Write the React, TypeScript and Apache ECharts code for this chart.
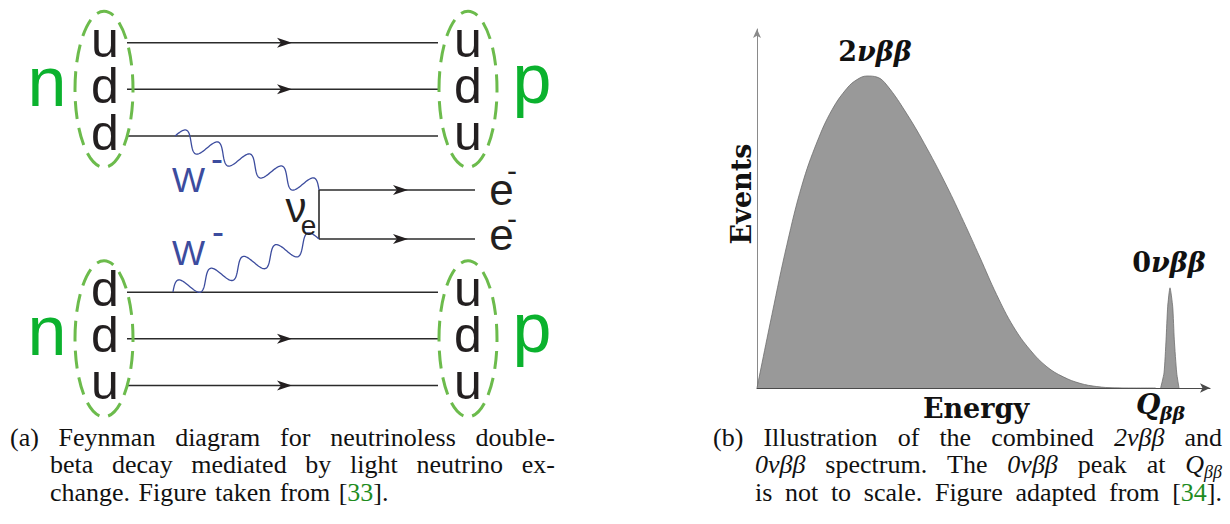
import { useEffect, useRef } from "react";
import * as echarts from "echarts";

// ---- data (arbitrary units) ----
const energy2nu = [0, 3.31, 6.62, 9.93, 13.25, 16.56, 19.87, 22.08, 24.28, 26.49, 28.7, 33.1, 37.5, 41.9, 45.6, 49.2, 52.9, 56.6, 60.3, 64.0, 67.6, 71.3, 75.0, 79.0, 83.0, 88.0];
const events2nu = [0, 20.5, 40.0, 56.5, 68.5, 77.5, 83.5, 85.9, 86.9, 86.6, 84.3, 76.3, 66.8, 56.2, 46.4, 36.4, 26.0, 17.1, 10.6, 5.9, 3.1, 1.3, 0.4, 0.05, 0, 0];
const energy0nu = [89.1, 89.85, 90.3, 90.66, 91.17, 91.77, 92.12, 92.65, 93.16];
const events0nu = [0, 4.2, 13.4, 22.6, 27.9, 22.6, 13.4, 4.2, 0];

// ---- texts ----
const xAxisName = "Energy";
const yAxisName = "Events";
const leftQuarksTop = ["u", "d", "d"];
const rightQuarksTop = ["u", "d", "u"];
const leftQuarksBottom = ["d", "d", "u"];
const rightQuarksBottom = ["u", "d", "u"];
const captionA = [
  "(a) Feynman diagram for neutrinoless double-",
  "beta decay mediated by light neutrino ex-",
  "change. Figure taken from [#33#].",
];
const captionB = [
  "(b) Illustration of the combined *2νββ* and",
  "*0νββ* spectrum. The *0νββ* peak at *Q*_ββ_",
  "is not to scale. Figure adapted from [#34#].",
];

const SANS = '"Liberation Sans", Arial, sans-serif';
const SERIF = '"Liberation Serif", "Times New Roman", serif';
const BOLDSERIF = '"DejaVu Serif", serif';
const INK = "#231f20";
const LINE = "#2b2b2b";
const DASH = "#6cbb4c";
const GREEN = "#0bb22e";
const BLUE = "#3c4c9e";

let ctx: CanvasRenderingContext2D | null = null;
function measure(text: string, css: string) {
  if (!ctx) ctx = document.createElement("canvas").getContext("2d");
  ctx!.font = css;
  return ctx!.measureText(text).width;
}

type Part = { t: string; kind: string };
function parseWord(w: string): Part[] {
  return w
    .split(/(\*[^*]+\*|#[^#]+#|_[^_]+_)/)
    .filter((s) => s.length > 0)
    .map((s) => {
      if (s[0] === "*") return { t: s.slice(1, -1), kind: "it" };
      if (s[0] === "#") return { t: s.slice(1, -1), kind: "gr" };
      if (s[0] === "_") return { t: s.slice(1, -1), kind: "sub" };
      return { t: s, kind: "rm" };
    });
}
const CAP = 26;
function partFont(kind: string) {
  if (kind === "it") return { fontStyle: "italic", fontSize: CAP, dy: 0, fill: "#111" };
  if (kind === "sub") return { fontStyle: "italic", fontSize: 18, dy: 5, fill: "#111" };
  if (kind === "gr") return { fontStyle: "normal", fontSize: CAP, dy: 0, fill: "#1e8c1e" };
  return { fontStyle: "normal", fontSize: CAP, dy: 0, fill: "#111" };
}
function cssOf(f: { fontStyle: string; fontSize: number }) {
  return `${f.fontStyle} ${f.fontSize}px ${SERIF}`;
}

function captionLine(line: string, x0: number, x1: number, baseline: number, justify: boolean) {
  const words = line.split(" ").map(parseWord);
  const widths = words.map((parts) =>
    parts.reduce((s, p) => s + measure(p.t, cssOf(partFont(p.kind))), 0)
  );
  const total = widths.reduce((a, b) => a + b, 0);
  const gap = justify && words.length > 1 ? (x1 - x0 - total) / (words.length - 1) : measure(" ", cssOf(partFont("rm"))) * 1.3;
  const els: any[] = [];
  let x = x0;
  words.forEach((parts, i) => {
    let px = x;
    parts.forEach((p) => {
      const f = partFont(p.kind);
      els.push({
        type: "text",
        x: px,
        y: baseline + f.dy - 0.34 * f.fontSize,
        z: 100,
        style: {
          text: p.t,
          fill: f.fill,
          fontFamily: SERIF,
          fontSize: f.fontSize,
          fontStyle: f.fontStyle,
          textAlign: "left",
          verticalAlign: "middle",
        },
      });
      px += measure(p.t, cssOf(f));
    });
    x += widths[i] + gap;
  });
  return els;
}

function sansText(text: string, cx: number, baseline: number, size: number, fill: string, align = "center") {
  return {
    type: "text",
    x: cx,
    y: baseline - 0.3465 * size,
    z: 100,
    style: { text, fill, fontFamily: SANS, fontSize: size, textAlign: align, verticalAlign: "middle" },
  };
}

function arrowHead(tipX: number, y: number) {
  return {
    type: "polygon",
    z: 60,
    shape: { points: [[tipX, y], [tipX - 15, y - 5], [tipX - 11, y], [tipX - 15, y + 5]] },
    style: { fill: INK },
  };
}

function wave(x0: number, y0: number, x1: number, y1: number, periods: number, amp: number) {
  const dx = x1 - x0;
  const dy = y1 - y0;
  const L = Math.hypot(dx, dy);
  const nx = dy / L;
  const ny = -dx / L;
  const pts: number[][] = [];
  const N = 240;
  for (let i = 0; i <= N; i++) {
    const t = i / N;
    const off = amp * Math.sin(2 * Math.PI * periods * t);
    pts.push([x0 + dx * t + nx * off, y0 + dy * t + ny * off]);
  }
  return {
    type: "polyline",
    z: 50,
    shape: { points: pts },
    style: { stroke: BLUE, lineWidth: 1.3, fill: "none" },
  };
}

function feynman() {
  const els: any[] = [];
  const lineYs = [42.7, 89.3, 136];
  const baseYs = [57, 103, 150];
  const groups = [
    { off: 0, left: leftQuarksTop, right: rightQuarksTop, arrows: [0, 1] },
    { off: 249.5, left: leftQuarksBottom, right: rightQuarksBottom, arrows: [1, 2] },
  ];
  groups.forEach((g) => {
    lineYs.forEach((y, i) => {
      els.push({ type: "line", z: 40, shape: { x1: 127, y1: y + g.off, x2: 438, y2: y + g.off }, style: { stroke: LINE, lineWidth: 1.6 } });
      if (g.arrows.includes(i)) els.push(arrowHead(292, y + g.off));
      els.push(sansText(g.left[i], 105, baseYs[i] + g.off, 50, INK));
      els.push(sansText(g.right[i], 468, baseYs[i] + g.off, 50, INK));
    });
    [104, 468].forEach((cx) =>
      els.push({
        type: "ellipse",
        z: 45,
        shape: { cx, cy: 89.3 + g.off, rx: 29, ry: 78 },
        style: { fill: "none", stroke: DASH, lineWidth: 3, lineDash: [18, 9] },
      })
    );
    els.push(sansText("n", 47, 106 + g.off, 70, GREEN));
    els.push(sansText("p", 532, 103 + g.off, 70, GREEN));
  });
  // neutrino propagator and electrons
  els.push({ type: "line", z: 40, shape: { x1: 319, y1: 190, x2: 319, y2: 239 }, style: { stroke: LINE, lineWidth: 1.6 } });
  [190, 239].forEach((y) => {
    els.push({ type: "line", z: 40, shape: { x1: 319, y1: y, x2: 475, y2: y }, style: { stroke: LINE, lineWidth: 1.6 } });
    els.push(arrowHead(408, y));
  });
  els.push(sansText("e", 501.5, 205, 44, INK));
  els.push(sansText("e", 501.5, 250, 44, INK));
  els.push(sansText("-", 512, 181, 30, INK));
  els.push(sansText("-", 512, 229, 30, INK));
  els.push(sansText("ν", 296, 222, 42, INK));
  els.push(sansText("e", 308.5, 235, 28, INK));
  // W bosons
  els.push(wave(175, 136, 319, 190, 4.5, 9.5));
  els.push(wave(173, 292, 319, 239, 4.5, 9.5));
  els.push(sansText("W", 172, 192, 35, BLUE, "left"));
  els.push(sansText("W", 172, 265, 35, BLUE, "left"));
  els.push(sansText("-", 217, 171, 36, BLUE));
  els.push(sansText("-", 218, 244, 36, BLUE));
  return els;
}

function spectrumLabels() {
  const bold = (size: number, italic: boolean) => ({
    fontFamily: BOLDSERIF,
    fontWeight: "bold",
    fontSize: size,
    fontStyle: italic ? "italic" : "normal",
  });
  return [
    {
      type: "text", x: 875, y: 51, z: 100,
      style: {
        text: "{a|2}{b|νββ}", textAlign: "center", verticalAlign: "middle", fill: "#111",
        rich: { a: { ...bold(27, false), fill: "#111" }, b: { ...bold(27, true), fill: "#111" } },
      },
    },
    {
      type: "text", x: 1169, y: 262, z: 100,
      style: {
        text: "{a|0}{b|νββ}", textAlign: "center", verticalAlign: "middle", fill: "#111",
        rich: { a: { ...bold(27, false), fill: "#111" }, b: { ...bold(27, true), fill: "#111" } },
      },
    },
    {
      type: "text", x: 976, y: 418 - 0.34 * 27, z: 100,
      style: { text: xAxisName, textAlign: "center", verticalAlign: "middle", fill: "#111", ...bold(27, false) },
    },
    {
      type: "text", x: 741, y: 194, rotation: Math.PI / 2, z: 100,
      style: { text: yAxisName, textAlign: "center", verticalAlign: "middle", fill: "#111", ...bold(27, false) },
    },
    {
      type: "text", x: 1136, y: 414 - 0.34 * 28, z: 100,
      style: { text: "Q", textAlign: "left", verticalAlign: "middle", fill: "#111", ...bold(28, true) },
    },
    {
      type: "text", x: 1160, y: 419 - 0.34 * 19, z: 100,
      style: { text: "ββ", textAlign: "left", verticalAlign: "middle", fill: "#111", ...bold(19, true) },
    },
  ];
}

export default function App() {
  const ref = useRef<HTMLDivElement>(null);
  useEffect(() => {
    if (!ref.current) return;
    const chart = echarts.init(ref.current, null, { renderer: "svg" });
    const captions = [
      ...captionLine(captionA[0], 10, 555, 446, true),
      ...captionLine(captionA[1], 50, 555, 473.5, true),
      ...captionLine(captionA[2], 50, 555, 501, false),
      ...captionLine(captionB[0], 713, 1222, 446, true),
      ...captionLine(captionB[1], 755, 1222, 473.5, true),
      ...captionLine(captionB[2], 755, 1222, 501, true),
    ];
    const axisBase = {
      type: "value",
      min: 0,
      max: 100,
      axisTick: { show: false },
      axisLabel: { show: false },
      splitLine: { show: false },
    };
    chart.setOption({
      animation: false,
      backgroundColor: "#ffffff",
      grid: { left: 757, top: 29, width: 453, height: 359 },
      xAxis: {
        ...axisBase,
        axisLine: { show: true, symbol: ["none", "arrow"], symbolSize: [7, 10], lineStyle: { color: "#4a4a4a", width: 1.2 } },
      },
      yAxis: {
        ...axisBase,
        axisLine: { show: true, symbol: ["none", "arrow"], symbolSize: [6, 9], lineStyle: { color: "#8a8a8a", width: 1 } },
      },
      series: [
        {
          name: "2νββ",
          type: "line",
          data: energy2nu.map((e, i) => [e, events2nu[i]]),
          smooth: 0.4,
          showSymbol: false,
          silent: true,
          lineStyle: { color: "#6e6e6e", width: 0.8 },
          areaStyle: { color: "#999999", opacity: 1 },
        },
        {
          name: "0νββ",
          type: "line",
          data: energy0nu.map((e, i) => [e, events0nu[i]]),
          smooth: 0.2,
          showSymbol: false,
          silent: true,
          lineStyle: { color: "#6e6e6e", width: 0.8 },
          areaStyle: { color: "#999999", opacity: 1 },
        },
      ],
      graphic: { elements: [...feynman(), ...spectrumLabels(), ...captions] },
    });
    return () => chart.dispose();
  }, []);
  return <div ref={ref} style={{ position: "fixed", left: 0, top: 0, width: 1230, height: 524 }} />;
}
